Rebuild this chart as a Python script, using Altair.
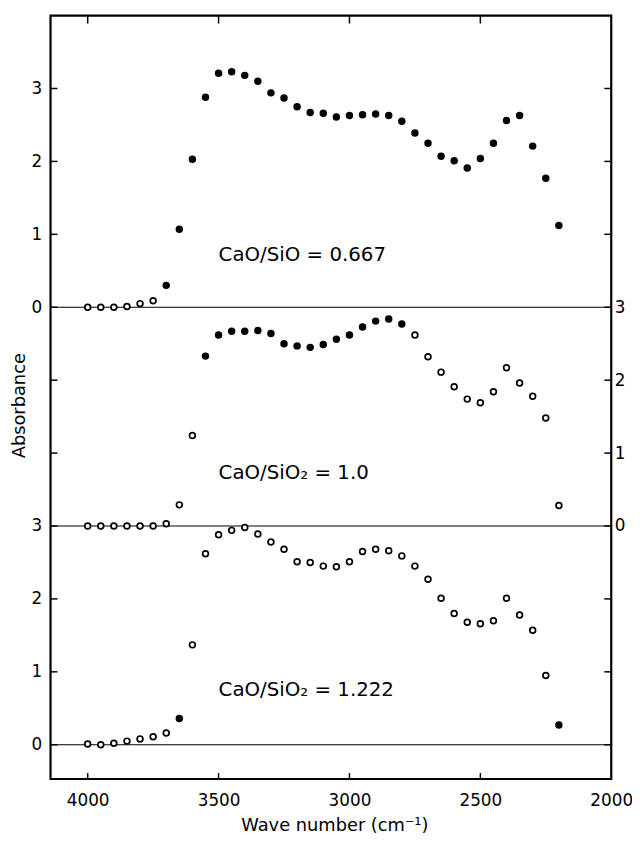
import altair as alt
import pandas as pd

# ---------------- data ----------------
wavenumbers = [4000, 3950, 3900, 3850, 3800, 3750, 3700, 3650, 3600, 3550,
               3500, 3450, 3400, 3350, 3300, 3250, 3200, 3150, 3100, 3050,
               3000, 2950, 2900, 2850, 2800, 2750, 2700, 2650, 2600, 2550,
               2500, 2450, 2400, 2350, 2300, 2250, 2200]

abs_0667 = [0.0, 0.0, 0.0, 0.01, 0.05, 0.09, 0.30, 1.07, 2.03, 2.88,
            3.21, 3.23, 3.18, 3.10, 2.94, 2.87, 2.75, 2.67, 2.66, 2.61,
            2.63, 2.64, 2.65, 2.63, 2.55, 2.39, 2.25, 2.07, 2.01, 1.91,
            2.04, 2.25, 2.56, 2.63, 2.21, 1.77, 1.12]

abs_10 = [0.0, 0.0, 0.0, 0.0, 0.0, 0.0, 0.03, 0.29, 1.24, 2.33,
          2.62, 2.67, 2.67, 2.68, 2.64, 2.50, 2.47, 2.45, 2.49, 2.56,
          2.62, 2.73, 2.81, 2.84, 2.77, 2.62, 2.32, 2.11, 1.91, 1.74,
          1.69, 1.84, 2.17, 1.96, 1.78, 1.48, 0.28]

abs_1222 = [0.01, 0.0, 0.02, 0.05, 0.08, 0.11, 0.16, 0.36, 1.37, 2.62,
            2.88, 2.94, 2.98, 2.89, 2.78, 2.68, 2.51, 2.50, 2.45, 2.44,
            2.51, 2.65, 2.68, 2.66, 2.59, 2.45, 2.27, 2.01, 1.80, 1.68,
            1.66, 1.70, 2.01, 1.78, 1.57, 0.95, 0.27]

series_names = ["0.667", "1.0", "1.222"]
series_offsets = [6, 3, 0]
series_values = [abs_0667, abs_10, abs_1222]

baseline_levels = [0, 3, 6]
y_tick_values = [0, 1, 2, 3, 4, 5, 6, 7, 8, 9]
x_tick_values = [4000, 3500, 3000, 2500]
x_label_values = [4000, 3500, 3000, 2500, 2000]

annotation_texts = ["CaO/SiO  = 0.667", "CaO/SiO\u2082 = 1.0", "CaO/SiO\u2082 = 1.222"]
annotation_x = [3500, 3500, 3500]
annotation_y = [0.72, 0.73, 0.75]

# ---------------- tables ----------------
rows = []
for name, off, vals in zip(series_names, series_offsets, series_values):
    for wn, a in zip(wavenumbers, vals):
        rows.append({"wn": wn, "absorbance": a, "series": name, "offset": off})
df = pd.DataFrame(rows)

ann_df = pd.DataFrame({"x": annotation_x,
                       "y": [a + o for a, o in zip(annotation_y, series_offsets)],
                       "text": annotation_texts})
base_df = pd.DataFrame({"level": baseline_levels})
ytick_df = pd.DataFrame({"v": y_tick_values})
xtick_df = pd.DataFrame({"v": x_tick_values})

FONT = "DejaVu Sans"
W, H = 567, 772

xs = alt.Scale(domain=[2000, 4142], reverse=True, nice=False, zero=False)
ys = alt.Scale(domain=[-0.47, 10.0], nice=False, zero=False)

fill_expr = ("(datum.series == '0.667' && datum.wn <= 3700) || "
             "(datum.series == '1.0' && datum.wn <= 3550 && datum.wn >= 2800) || "
             "(datum.series == '1.222' && (datum.wn == 3650 || datum.wn == 2200))"
             " ? 'black' : 'white'")

x_axis = alt.Axis(values=x_label_values, orient="bottom", ticks=False, domain=False,
                  grid=False, format="d", labelFontSize=17, labelPadding=14,
                  labelFlush=False, labelOverlap=False, labelBound=False,
                  labelColor="black", labelFont=FONT,
                  title="Wave number (cm\u207b\u00b9)", titleFontSize=18,
                  titleFontWeight="normal", titleFont=FONT, titleColor="black",
                  titleX=287, titleY=47, titleBaseline="middle", titleAlign="center")

left_axis = alt.Axis(values=y_tick_values, orient="left", ticks=False, domain=False,
                     grid=False, labelFontSize=17, labelPadding=9, labelFont=FONT,
                     labelColor="black", labelOverlap=False,
                     labelExpr="datum.value <= 3 ? datum.label : (datum.value >= 6 ? '' + (datum.value - 6) : '')",
                     title="Absorbance", titleFontSize=18, titleFontWeight="normal",
                     titleFont=FONT, titleColor="black", titleX=-31, titleY=394,
                     titleBaseline="middle", titleAlign="center", titleAngle=270)

right_axis = alt.Axis(values=y_tick_values, orient="right", ticks=False, domain=False,
                      grid=False, labelFontSize=17, labelPadding=3, labelFont=FONT,
                      labelColor="black", labelOverlap=False,
                      labelExpr="(datum.value >= 3 && datum.value <= 6) ? '' + (datum.value - 3) : ''",
                      title="")

points = alt.Chart(df).transform_calculate(
    yy="datum.absorbance + datum.offset",
    fillc=fill_expr,
).mark_point(shape="circle", size=34, strokeWidth=1.7, opacity=1,
             fillOpacity=1, strokeOpacity=1, filled=False).encode(
    x=alt.X("wn:Q", scale=xs, axis=x_axis),
    y=alt.Y("yy:Q", scale=ys, axis=left_axis),
    fill=alt.Fill("fillc:N", scale=None),
    color=alt.value("black"),
)

baselines = alt.Chart(base_df).mark_rule(color="black", strokeWidth=1.2).encode(
    y=alt.Y("level:Q", scale=ys, axis=None)
)

left_ticks = alt.Chart(ytick_df).mark_rule(color="black", strokeWidth=1.5).encode(
    y=alt.Y("v:Q", scale=ys, axis=None), x=alt.value(0), x2=alt.value(7)
)
right_ticks = alt.Chart(ytick_df).mark_rule(color="black", strokeWidth=1.5).encode(
    y=alt.Y("v:Q", scale=ys, axis=right_axis), x=alt.value(W - 7), x2=alt.value(W)
)
top_ticks = alt.Chart(xtick_df).mark_rule(color="black", strokeWidth=1.5).encode(
    x=alt.X("v:Q", scale=xs, axis=None), y=alt.value(0), y2=alt.value(8)
)
bottom_ticks = alt.Chart(xtick_df).mark_rule(color="black", strokeWidth=1.5).encode(
    x=alt.X("v:Q", scale=xs, axis=None), y=alt.value(H - 6), y2=alt.value(H)
)

labels = alt.Chart(ann_df).mark_text(align="left", baseline="middle", fontSize=20,
                                     font=FONT, color="black").encode(
    x=alt.X("x:Q", scale=xs, axis=None),
    y=alt.Y("y:Q", scale=ys, axis=None),
    text="text:N",
)

chart = alt.layer(
    baselines, left_ticks, right_ticks, top_ticks, bottom_ticks, points, labels
).resolve_scale(x="shared", y="shared").resolve_axis(
    x="independent", y="independent"
).properties(
    width=W, height=H,
    autosize=alt.AutoSizeParams(type="none"),
    padding={"left": 43, "top": 3, "right": 21, "bottom": 57},
    background="white",
).configure_view(stroke="black", strokeWidth=2.2)

chart.save("out.html", embed_options={"renderer": "svg", "actions": False})
